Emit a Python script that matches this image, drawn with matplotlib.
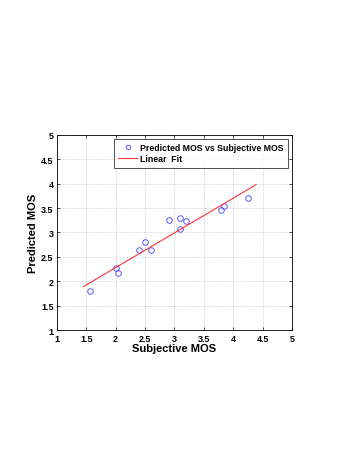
import matplotlib
matplotlib.use("Agg")
import matplotlib.pyplot as plt

# subjective vs predicted MOS
subjective_mos = [1.57, 2.00, 2.04, 2.40, 2.50, 2.60, 2.90, 3.10, 3.10, 3.20, 3.80, 3.85, 4.25]
predicted_mos = [1.80, 2.27, 2.17, 2.64, 2.80, 2.64, 3.25, 3.30, 3.07, 3.24, 3.47, 3.55, 3.70]

# linear fit endpoints
fit_x = [1.45, 4.39]
fit_y = [1.89, 3.98]

ticks = [1, 1.5, 2, 2.5, 3, 3.5, 4, 4.5, 5]
tick_labels = ["1", "1.5", "2", "2.5", "3", "3.5", "4", "4.5", "5"]

plt.rcParams["font.family"] = ["Liberation Sans", "DejaVu Sans"]
plt.rcParams["font.weight"] = "bold"

fig = plt.figure(figsize=(3.39, 4.77), dpi=100)
ax = fig.add_axes([0.168, 0.306, 0.693, 0.409])

ax.plot(subjective_mos, predicted_mos, "o", mfc="none", mec=(0.35, 0.35, 1.0),
        ms=4, mew=0.7, label="Predicted MOS vs Subjective MOS")
ax.plot(fit_x, fit_y, "-", color=(1.0, 0.2, 0.2), lw=0.8, label="Linear  Fit")

ax.set_xlim(1, 5)
ax.set_ylim(1, 5)
ax.set_xticks(ticks)
ax.set_xticklabels(tick_labels)
ax.set_yticks(ticks)
ax.set_yticklabels(tick_labels)
ax.tick_params(direction="in", length=2.5, width=0.5, labelsize=6.5, pad=2.5,
               top=True, right=True)
for s in ax.spines.values():
    s.set_linewidth(0.6)
ax.grid(True, ls=":", lw=0.5, color="0.7")

ax.set_xlabel("Subjective MOS", fontsize=8, fontweight="bold", labelpad=0)
ax.set_ylabel("Predicted MOS", fontsize=8, fontweight="bold", labelpad=2)

leg = ax.legend(loc="upper right", fontsize=6.3, frameon=True, fancybox=False,
                borderpad=0.5, labelspacing=0.25, handlelength=2.2,
                handletextpad=0.3, borderaxespad=0.45, markerscale=0.8)
leg.get_frame().set_edgecolor("black")
leg.get_frame().set_linewidth(0.6)

fig.savefig("out.png", dpi=100)
